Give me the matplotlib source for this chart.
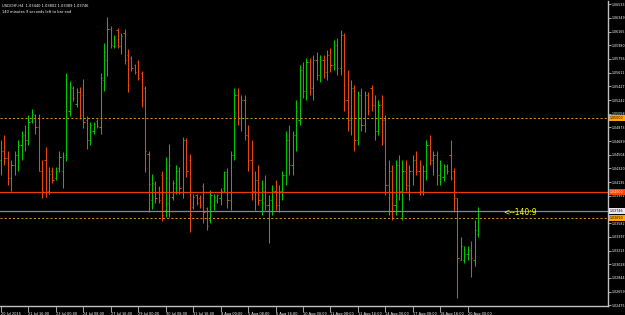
import matplotlib
matplotlib.use("Agg")
import matplotlib.pyplot as plt
import numpy as np

# USDCHF H4 bars, 20 Jul 2015 08:00 .. 20 Aug 2015 12:00
opens = [1.0443, 1.0456, 1.0446, 1.0419, 1.0436, 1.0450, 1.0463, 1.0477, 1.0470, 1.0496,
         1.0504, 1.0488, 1.0429, 1.0443, 1.0402, 1.0429, 1.0419, 1.0432, 1.0429, 1.0450,
         1.0510, 1.0540, 1.0519, 1.0535, 1.0531, 1.0497, 1.0470, 1.0482, 1.0496, 1.0488,
         1.0551, 1.0578, 1.0620, 1.0597, 1.0618, 1.0597, 1.0614, 1.0585, 1.0581, 1.0571,
         1.0575, 1.0560, 1.0540, 1.0452, 1.0389, 1.0411, 1.0405, 1.0423, 1.0376, 1.0386,
         1.0394, 1.0405, 1.0429, 1.0400, 1.0470, 1.0443, 1.0380, 1.0396, 1.0392, 1.0408,
         1.0378, 1.0362, 1.0382, 1.0389, 1.0392, 1.0405, 1.0427, 1.0389, 1.0450, 1.0531,
         1.0500, 1.0524, 1.0477, 1.0443, 1.0402, 1.0416, 1.0389, 1.0402, 1.0382, 1.0389,
         1.0402, 1.0382, 1.0402, 1.0423, 1.0470, 1.0436, 1.0477, 1.0497, 1.0565, 1.0537,
         1.0575, 1.0540, 1.0578, 1.0558, 1.0578, 1.0562, 1.0585, 1.0571, 1.0598, 1.0567,
         1.0612, 1.0524, 1.0497, 1.0540, 1.0470, 1.0531, 1.0490, 1.0531, 1.0540, 1.0517,
         1.0483, 1.0517, 1.0497, 1.0409, 1.0429, 1.0382, 1.0436, 1.0402, 1.0429, 1.0409,
         1.0429, 1.0443, 1.0429, 1.0402, 1.0429, 1.0463, 1.0443, 1.0450, 1.0423, 1.0420,
         1.0435, 1.0450, 1.0429, 1.0392, 1.0309, 1.0308, 1.0316, 1.0322, 1.0309, 1.0344]
highs = [1.0470, 1.0477, 1.0456, 1.0443, 1.0456, 1.0470, 1.0483, 1.0490, 1.0504, 1.0512,
         1.0506, 1.0505, 1.0444, 1.0461, 1.0434, 1.0434, 1.0434, 1.0455, 1.0454, 1.0560,
         1.0550, 1.0543, 1.0540, 1.0542, 1.0552, 1.0502, 1.0494, 1.0494, 1.0498, 1.0560,
         1.0601, 1.0636, 1.0624, 1.0612, 1.0621, 1.0614, 1.0620, 1.0593, 1.0583, 1.0573,
         1.0578, 1.0563, 1.0543, 1.0455, 1.0425, 1.0415, 1.0408, 1.0428, 1.0447, 1.0465,
         1.0416, 1.0436, 1.0434, 1.0474, 1.0473, 1.0451, 1.0398, 1.0398, 1.0396, 1.0412,
         1.0380, 1.0403, 1.0398, 1.0398, 1.0405, 1.0429, 1.0432, 1.0456, 1.0540, 1.0540,
         1.0531, 1.0531, 1.0490, 1.0470, 1.0429, 1.0436, 1.0416, 1.0423, 1.0396, 1.0409,
         1.0416, 1.0409, 1.0429, 1.0483, 1.0490, 1.0483, 1.0524, 1.0571, 1.0575, 1.0581,
         1.0581, 1.0585, 1.0589, 1.0585, 1.0585, 1.0592, 1.0594, 1.0605, 1.0608, 1.0618,
         1.0614, 1.0565, 1.0551, 1.0544, 1.0537, 1.0540, 1.0537, 1.0535, 1.0544, 1.0531,
         1.0524, 1.0531, 1.0504, 1.0443, 1.0436, 1.0443, 1.0450, 1.0443, 1.0443, 1.0436,
         1.0450, 1.0456, 1.0443, 1.0436, 1.0470, 1.0477, 1.0456, 1.0456, 1.0443, 1.0438,
         1.0438, 1.0470, 1.0432, 1.0392, 1.0340, 1.0327, 1.0327, 1.0334, 1.0362, 1.0380]
lows = [1.0423, 1.0436, 1.0409, 1.0402, 1.0423, 1.0429, 1.0443, 1.0456, 1.0463, 1.0493,
        1.0479, 1.0428, 1.0392, 1.0393, 1.0398, 1.0413, 1.0417, 1.0427, 1.0405, 1.0442,
        1.0502, 1.0523, 1.0515, 1.0498, 1.0486, 1.0458, 1.0463, 1.0479, 1.0486, 1.0478,
        1.0537, 1.0556, 1.0594, 1.0594, 1.0594, 1.0586, 1.0573, 1.0535, 1.0563, 1.0559,
        1.0551, 1.0515, 1.0427, 1.0373, 1.0377, 1.0385, 1.0385, 1.0361, 1.0366, 1.0366,
        1.0389, 1.0398, 1.0398, 1.0392, 1.0420, 1.0346, 1.0377, 1.0382, 1.0378, 1.0358,
        1.0349, 1.0358, 1.0376, 1.0385, 1.0382, 1.0400, 1.0378, 1.0376, 1.0443, 1.0490,
        1.0483, 1.0470, 1.0429, 1.0389, 1.0376, 1.0382, 1.0369, 1.0376, 1.0331, 1.0369,
        1.0376, 1.0373, 1.0389, 1.0409, 1.0423, 1.0423, 1.0456, 1.0490, 1.0527, 1.0524,
        1.0531, 1.0524, 1.0551, 1.0548, 1.0554, 1.0551, 1.0562, 1.0565, 1.0558, 1.0558,
        1.0510, 1.0483, 1.0477, 1.0456, 1.0463, 1.0483, 1.0481, 1.0504, 1.0510, 1.0470,
        1.0477, 1.0463, 1.0396, 1.0369, 1.0362, 1.0369, 1.0389, 1.0362, 1.0402, 1.0389,
        1.0409, 1.0423, 1.0396, 1.0396, 1.0416, 1.0436, 1.0423, 1.0409, 1.0409, 1.0415,
        1.0425, 1.0416, 1.0373, 1.0257, 1.0308, 1.0305, 1.0309, 1.0285, 1.0301, 1.0339]
closes = [1.0456, 1.0446, 1.0419, 1.0436, 1.0450, 1.0463, 1.0477, 1.0470, 1.0494, 1.0505,
          1.0488, 1.0429, 1.0402, 1.0400, 1.0425, 1.0416, 1.0429, 1.0448, 1.0448, 1.0528,
          1.0542, 1.0527, 1.0535, 1.0504, 1.0494, 1.0470, 1.0490, 1.0492, 1.0489, 1.0554,
          1.0589, 1.0620, 1.0598, 1.0609, 1.0597, 1.0610, 1.0578, 1.0544, 1.0567, 1.0562,
          1.0554, 1.0524, 1.0456, 1.0411, 1.0413, 1.0392, 1.0389, 1.0369, 1.0419, 1.0436,
          1.0413, 1.0429, 1.0405, 1.0470, 1.0429, 1.0369, 1.0394, 1.0385, 1.0382, 1.0373,
          1.0355, 1.0396, 1.0394, 1.0396, 1.0402, 1.0427, 1.0389, 1.0450, 1.0531, 1.0500,
          1.0524, 1.0477, 1.0443, 1.0402, 1.0416, 1.0389, 1.0402, 1.0382, 1.0389, 1.0402,
          1.0382, 1.0402, 1.0423, 1.0470, 1.0436, 1.0477, 1.0510, 1.0565, 1.0537, 1.0575,
          1.0540, 1.0578, 1.0558, 1.0578, 1.0562, 1.0585, 1.0571, 1.0598, 1.0567, 1.0612,
          1.0524, 1.0497, 1.0540, 1.0470, 1.0531, 1.0490, 1.0531, 1.0510, 1.0517, 1.0483,
          1.0517, 1.0497, 1.0409, 1.0429, 1.0382, 1.0436, 1.0402, 1.0429, 1.0409, 1.0429,
          1.0443, 1.0429, 1.0402, 1.0429, 1.0463, 1.0443, 1.0450, 1.0423, 1.0436, 1.0435,
          1.0428, 1.0419, 1.0392, 1.0311, 1.0328, 1.0317, 1.0322, 1.0311, 1.0349, 1.03746]

# one label every 8 bars
date_labels = ["20 Jul 2015", "21 Jul 16:00", "23 Jul 00:00", "24 Jul 08:00", "27 Jul 16:00",
               "29 Jul 00:00", "30 Jul 08:00", "31 Jul 16:00", "4 Aug 00:00", "5 Aug 08:00",
               "6 Aug 16:00", "10 Aug 00:00", "11 Aug 08:00", "12 Aug 16:00", "14 Aug 00:00",
               "17 Aug 08:00", "18 Aug 16:00", "20 Aug 00:00"]
price_labels = ["1.02475", "1.02659", "1.02844", "1.03028", "1.03213", "1.03397", "1.03582",
                "1.03766", "1.03951", "1.04135", "1.04320", "1.04504", "1.04689", "1.04873",
                "1.05058", "1.05242", "1.05427", "1.05611", "1.05796", "1.05980", "1.06165",
                "1.06349", "1.06533"]

level_dotted = [1.05000, 1.03650]
level_red = 1.04000
bid = 1.03746

title = "USDCHF,H4  1.03440 1.03802 1.03389 1.03746"
subtitle = "140 minutes 9 seconds left to bar end"
timer = "<--140:9"

GREEN = "#00c800"
RED = "#e8460a"
DOT = "#c8901e"

fig = plt.figure(figsize=(6.25, 3.15), dpi=100, facecolor="black")
ax = fig.add_axes([0, 9 / 315, 608 / 625, 305 / 315], facecolor="black")

o = np.array(opens)
h = np.array(highs)
l = np.array(lows)
c = np.array(closes)
x = np.arange(len(o))
cols = np.where(c >= o, GREEN, RED)

ax.vlines(x, l, h, colors=cols, lw=0.75)
ax.hlines(o, x - 0.35, x, colors=cols, lw=0.75)
ax.hlines(c, x, x + 0.35, colors=cols, lw=0.75)

for lv in level_dotted:
    ax.axhline(lv, color=DOT, lw=0.75, ls=(0, (2, 2)))
ax.axhline(level_red, color="#e83c00", lw=0.9)
ax.axhline(bid, color="#7f8a96", lw=0.9)

ax.set_xlim(-0.3, 176.9)
ax.set_ylim(1.02465, 1.06577)

ax.yaxis.tick_right()
ax.set_yticks([float(s) for s in price_labels])
ax.set_yticklabels(price_labels)
ax.set_xticks(np.arange(len(date_labels)) * 8)
ax.set_xticklabels(date_labels)
ax.tick_params(axis="y", colors="#c0c0c0", labelcolor="white", labelsize=2.3,
               length=2, width=0.6, pad=0.8)
ax.tick_params(axis="x", colors="#c0c0c0", labelcolor="white", labelsize=2.5,
               length=4, width=0.6, pad=0.5)
for t in ax.get_xticklabels():
    t.set_horizontalalignment("left")

for side in ["left", "top"]:
    ax.spines[side].set_visible(False)
for side in ["right", "bottom"]:
    ax.spines[side].set_color("#c0c0c0")
    ax.spines[side].set_linewidth(1.0)

# price tags on the right scale (they hide the scale label beneath)
tags = [(level_dotted[0], "#ffa500", "black"), (level_red, "#ff4500", "white"),
        (bid, "#e8e8e8", "black"), (level_dotted[1], "#ffa500", "black")]
for t in ax.get_yticklabels():
    if any(abs(float(t.get_text()) - v) < 0.0004 for v, _, _ in tags):
        t.set_visible(False)
for val, fc, tc in tags:
    ax.text(1.003, val, "%.5f" % val, transform=ax.get_yaxis_transform(),
            ha="left", va="center", fontsize=2.3, color=tc, clip_on=False,
            bbox=dict(boxstyle="square,pad=0.4", fc=fc, ec="none"))

fig.text(0.003, 0.988, title, color="white", fontsize=2.6, va="top", ha="left")
fig.text(0.003, 0.968, subtitle, color="white", fontsize=2.6, va="top", ha="left")
ax.text(503 / 608, 0.305, timer, transform=ax.transAxes, color="#ffff00",
        fontsize=5.5, ha="left", va="center")

fig.savefig("out.png", dpi=100, facecolor="black")
